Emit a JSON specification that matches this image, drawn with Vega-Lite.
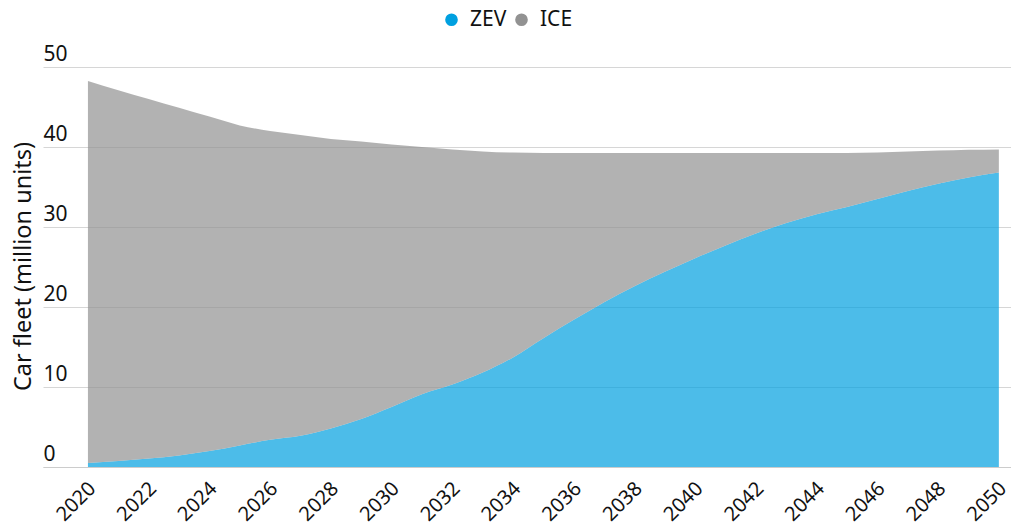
{
  "$schema": "https://vega.github.io/schema/vega-lite/v6.json",
  "width": 968,
  "height": 400,
  "autosize": {"type": "none"},
  "padding": {"left": 43, "top": 67, "right": 0, "bottom": 62},
  "background": "white",
  "config": {
    "view": {"stroke": null},
    "font": "Noto Sans",
    "axis": {"labelFont": "Noto Sans", "titleFont": "Noto Sans", "labelColor": "#111111", "titleColor": "#111111"},
    "legend": {"labelFont": "Noto Sans"}
  },
  "data": {
    "values": [
      {"year": 2020, "fuel": "ZEV", "fleet": 0.5}, {"year": 2020, "fuel": "ICE", "fleet": 47.75},
      {"year": 2021, "fuel": "ZEV", "fleet": 0.75}, {"year": 2021, "fuel": "ICE", "fleet": 46.35},
      {"year": 2022, "fuel": "ZEV", "fleet": 1.05}, {"year": 2022, "fuel": "ICE", "fleet": 44.95},
      {"year": 2023, "fuel": "ZEV", "fleet": 1.45}, {"year": 2023, "fuel": "ICE", "fleet": 43.45},
      {"year": 2024, "fuel": "ZEV", "fleet": 2.0}, {"year": 2024, "fuel": "ICE", "fleet": 41.8},
      {"year": 2025, "fuel": "ZEV", "fleet": 2.7}, {"year": 2025, "fuel": "ICE", "fleet": 40.0},
      {"year": 2026, "fuel": "ZEV", "fleet": 3.4}, {"year": 2026, "fuel": "ICE", "fleet": 38.6},
      {"year": 2027, "fuel": "ZEV", "fleet": 3.9}, {"year": 2027, "fuel": "ICE", "fleet": 37.6},
      {"year": 2028, "fuel": "ZEV", "fleet": 4.8}, {"year": 2028, "fuel": "ICE", "fleet": 36.2},
      {"year": 2029, "fuel": "ZEV", "fleet": 6.0}, {"year": 2029, "fuel": "ICE", "fleet": 34.7},
      {"year": 2030, "fuel": "ZEV", "fleet": 7.5}, {"year": 2030, "fuel": "ICE", "fleet": 32.8},
      {"year": 2031, "fuel": "ZEV", "fleet": 9.1}, {"year": 2031, "fuel": "ICE", "fleet": 30.9},
      {"year": 2032, "fuel": "ZEV", "fleet": 10.3}, {"year": 2032, "fuel": "ICE", "fleet": 29.4},
      {"year": 2033, "fuel": "ZEV", "fleet": 11.8}, {"year": 2033, "fuel": "ICE", "fleet": 27.65},
      {"year": 2034, "fuel": "ZEV", "fleet": 13.7}, {"year": 2034, "fuel": "ICE", "fleet": 25.6},
      {"year": 2035, "fuel": "ZEV", "fleet": 16.1}, {"year": 2035, "fuel": "ICE", "fleet": 23.15},
      {"year": 2036, "fuel": "ZEV", "fleet": 18.4}, {"year": 2036, "fuel": "ICE", "fleet": 20.85},
      {"year": 2037, "fuel": "ZEV", "fleet": 20.6}, {"year": 2037, "fuel": "ICE", "fleet": 18.65},
      {"year": 2038, "fuel": "ZEV", "fleet": 22.6}, {"year": 2038, "fuel": "ICE", "fleet": 16.65},
      {"year": 2039, "fuel": "ZEV", "fleet": 24.4}, {"year": 2039, "fuel": "ICE", "fleet": 14.85},
      {"year": 2040, "fuel": "ZEV", "fleet": 26.1}, {"year": 2040, "fuel": "ICE", "fleet": 13.15},
      {"year": 2041, "fuel": "ZEV", "fleet": 27.7}, {"year": 2041, "fuel": "ICE", "fleet": 11.55},
      {"year": 2042, "fuel": "ZEV", "fleet": 29.2}, {"year": 2042, "fuel": "ICE", "fleet": 10.05},
      {"year": 2043, "fuel": "ZEV", "fleet": 30.5}, {"year": 2043, "fuel": "ICE", "fleet": 8.75},
      {"year": 2044, "fuel": "ZEV", "fleet": 31.6}, {"year": 2044, "fuel": "ICE", "fleet": 7.65},
      {"year": 2045, "fuel": "ZEV", "fleet": 32.5}, {"year": 2045, "fuel": "ICE", "fleet": 6.75},
      {"year": 2046, "fuel": "ZEV", "fleet": 33.5}, {"year": 2046, "fuel": "ICE", "fleet": 5.8},
      {"year": 2047, "fuel": "ZEV", "fleet": 34.5}, {"year": 2047, "fuel": "ICE", "fleet": 4.95},
      {"year": 2048, "fuel": "ZEV", "fleet": 35.4}, {"year": 2048, "fuel": "ICE", "fleet": 4.15},
      {"year": 2049, "fuel": "ZEV", "fleet": 36.2}, {"year": 2049, "fuel": "ICE", "fleet": 3.45},
      {"year": 2050, "fuel": "ZEV", "fleet": 36.8}, {"year": 2050, "fuel": "ICE", "fleet": 2.9}
    ]
  },
  "mark": {"type": "area", "interpolate": "monotone", "opacity": 0.7},
  "encoding": {
    "x": {
      "field": "year",
      "type": "quantitative",
      "scale": {"domain": [2018.52, 2050.4], "nice": false, "zero": false},
      "axis": {
        "values": [2020, 2022, 2024, 2026, 2028, 2030, 2032, 2034, 2036, 2038, 2040, 2042, 2044, 2046, 2048, 2050],
        "format": "d",
        "title": null,
        "grid": false,
        "ticks": false,
        "labelAngle": -45,
        "labelFontSize": 20,
        "labelPadding": 11,
        "labelOffset": -3,
        "domainColor": "#cccccc",
        "domainWidth": 1
      }
    },
    "y": {
      "field": "fleet",
      "type": "quantitative",
      "stack": "zero",
      "scale": {"domain": [0, 50], "nice": false},
      "axis": {
        "values": [0, 10, 20, 30, 40, 50],
        "title": "Car fleet (million units)",
        "titleFontSize": 23.5,
        "titleFontWeight": "normal",
        "titleAngle": -90,
        "titleAlign": "center",
        "titleBaseline": "middle",
        "titleX": -20,
        "titleY": 199,
        "domain": false,
        "ticks": false,
        "tickSize": 0,
        "labelAlign": "left",
        "labelBaseline": "alphabetic",
        "labelPadding": 0,
        "labelOffset": -7,
        "labelFontSize": 21,
        "gridColor": "#d6d6d6",
        "gridWidth": 1,
        "zindex": 0
      }
    },
    "color": {
      "field": "fuel",
      "type": "nominal",
      "scale": {"domain": ["ZEV", "ICE"], "range": ["#00A0E0", "#929292"]},
      "legend": {
        "title": null,
        "orient": "none",
        "direction": "horizontal",
        "legendX": 398,
        "legendY": -58,
        "symbolType": "circle",
        "symbolSize": 160,
        "symbolOpacity": 1,
        "symbolStrokeWidth": 0,
        "labelFontSize": 21,
        "labelColor": "#111111",
        "labelOffset": 8,
        "columnPadding": 4
      }
    },
    "order": {"field": "fuel", "type": "nominal", "sort": "descending"}
  }
}
